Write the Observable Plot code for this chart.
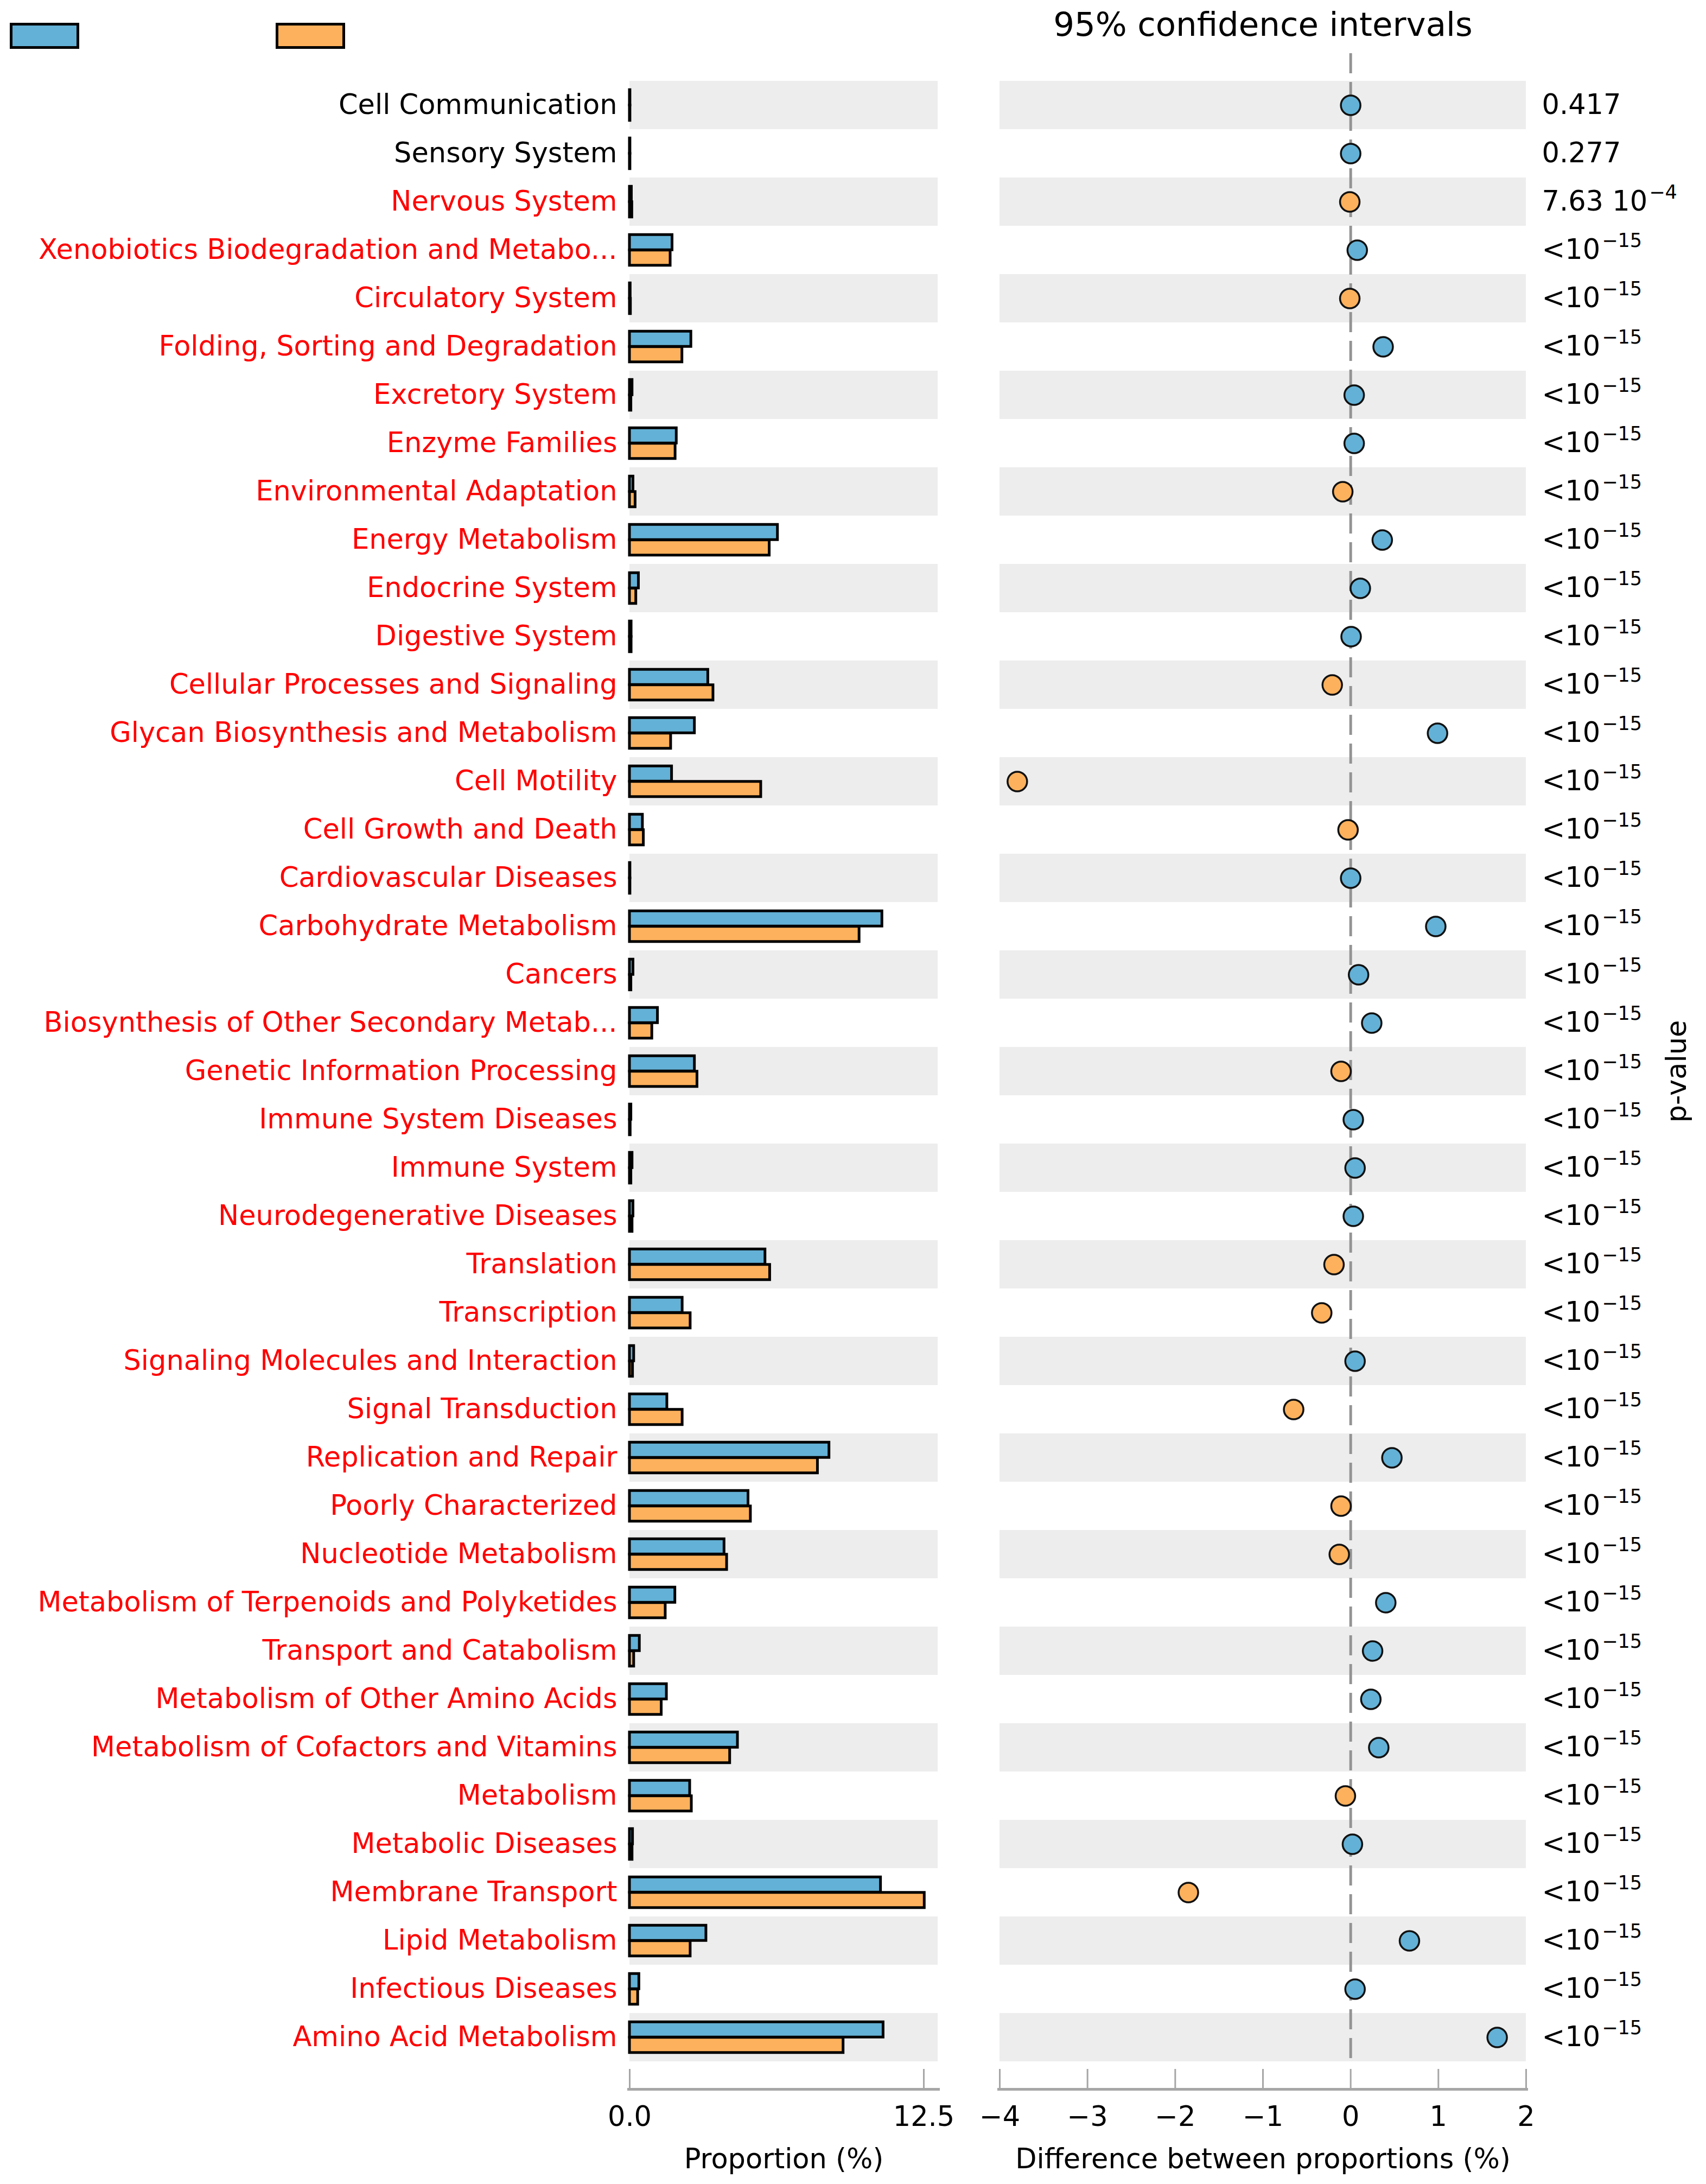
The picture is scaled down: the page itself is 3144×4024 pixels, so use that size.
<!DOCTYPE html>
<html>
<head>
<meta charset="utf-8">
<script src="https://cdn.jsdelivr.net/npm/d3@7"></script>
<script src="https://cdn.jsdelivr.net/npm/@observablehq/plot@0.6"></script>
<style>
  html, body { margin: 0; padding: 0; background: #ffffff; }
  #wrap { position: relative; width: 3144px; height: 4024px; font-family: "DejaVu Sans", sans-serif; overflow: hidden; }
  #wrap svg { position: absolute; left: 0; top: 0; background: transparent; overflow: visible; }
  .swatch { position: absolute; box-sizing: border-box; border: 5px solid #000; }
</style>
</head>
<body>
<div id="wrap"></div>
<script>
// ---------------- data ----------------
const features = [
  "Cell Communication", "Sensory System", "Nervous System",
  "Xenobiotics Biodegradation and Metabolism", "Circulatory System",
  "Folding, Sorting and Degradation", "Excretory System", "Enzyme Families",
  "Environmental Adaptation", "Energy Metabolism", "Endocrine System",
  "Digestive System", "Cellular Processes and Signaling",
  "Glycan Biosynthesis and Metabolism", "Cell Motility", "Cell Growth and Death",
  "Cardiovascular Diseases", "Carbohydrate Metabolism", "Cancers",
  "Biosynthesis of Other Secondary Metabolites", "Genetic Information Processing",
  "Immune System Diseases", "Immune System", "Neurodegenerative Diseases",
  "Translation", "Transcription", "Signaling Molecules and Interaction",
  "Signal Transduction", "Replication and Repair", "Poorly Characterized",
  "Nucleotide Metabolism", "Metabolism of Terpenoids and Polyketides",
  "Transport and Catabolism", "Metabolism of Other Amino Acids",
  "Metabolism of Cofactors and Vitamins", "Metabolism", "Metabolic Diseases",
  "Membrane Transport", "Lipid Metabolism", "Infectious Diseases",
  "Amino Acid Metabolism"
];
const labels = [
  "Cell Communication", "Sensory System", "Nervous System",
  "Xenobiotics Biodegradation and Metabo...", "Circulatory System",
  "Folding, Sorting and Degradation", "Excretory System", "Enzyme Families",
  "Environmental Adaptation", "Energy Metabolism", "Endocrine System",
  "Digestive System", "Cellular Processes and Signaling",
  "Glycan Biosynthesis and Metabolism", "Cell Motility", "Cell Growth and Death",
  "Cardiovascular Diseases", "Carbohydrate Metabolism", "Cancers",
  "Biosynthesis of Other Secondary Metab...", "Genetic Information Processing",
  "Immune System Diseases", "Immune System", "Neurodegenerative Diseases",
  "Translation", "Transcription", "Signaling Molecules and Interaction",
  "Signal Transduction", "Replication and Repair", "Poorly Characterized",
  "Nucleotide Metabolism", "Metabolism of Terpenoids and Polyketides",
  "Transport and Catabolism", "Metabolism of Other Amino Acids",
  "Metabolism of Cofactors and Vitamins", "Metabolism", "Metabolic Diseases",
  "Membrane Transport", "Lipid Metabolism", "Infectious Diseases",
  "Amino Acid Metabolism"
];
// proportion (%) of group 1 (blue) and group 2 (orange)
const propBlue = [0.02, 0.02, 0.08, 1.81, 0.03, 2.61, 0.11, 1.99, 0.15, 6.29, 0.38,
  0.07, 3.33, 2.76, 1.79, 0.55, 0.02, 10.73, 0.15, 1.19, 2.76, 0.06, 0.11, 0.15,
  5.76, 2.24, 0.18, 1.59, 8.48, 5.04, 4.02, 1.93, 0.42, 1.57, 4.59, 2.56, 0.13,
  10.67, 3.25, 0.40, 10.78];
const propOrange = [0.02, 0.02, 0.10, 1.73, 0.04, 2.23, 0.06, 1.94, 0.24, 5.94, 0.27,
  0.07, 3.55, 1.75, 5.58, 0.59, 0.02, 9.76, 0.06, 0.95, 2.87, 0.03, 0.06, 0.11,
  5.96, 2.58, 0.13, 2.24, 7.99, 5.14, 4.13, 1.52, 0.18, 1.35, 4.26, 2.63, 0.11,
  12.53, 2.58, 0.35, 9.08];
// difference between proportions (%)
const diffs = [0.0, 0.0, -0.01, 0.075, -0.01, 0.37, 0.04, 0.04, -0.09, 0.36, 0.11,
  0.005, -0.21, 0.99, -3.80, -0.03, 0.0, 0.97, 0.09, 0.24, -0.11, 0.03, 0.05, 0.03,
  -0.19, -0.33, 0.05, -0.65, 0.47, -0.11, -0.13, 0.40, 0.25, 0.23, 0.32, -0.06, 0.02,
  -1.85, 0.67, 0.05, 1.67];
const pValueLabels = ["0.417", "0.277", "7.63 10^-4",
  "<10^-15", "<10^-15", "<10^-15", "<10^-15", "<10^-15", "<10^-15", "<10^-15",
  "<10^-15", "<10^-15", "<10^-15", "<10^-15", "<10^-15", "<10^-15", "<10^-15",
  "<10^-15", "<10^-15", "<10^-15", "<10^-15", "<10^-15", "<10^-15", "<10^-15",
  "<10^-15", "<10^-15", "<10^-15", "<10^-15", "<10^-15", "<10^-15", "<10^-15",
  "<10^-15", "<10^-15", "<10^-15", "<10^-15", "<10^-15", "<10^-15", "<10^-15",
  "<10^-15", "<10^-15", "<10^-15"];
const significant = [false, false, true, true, true, true, true, true, true, true, true,
  true, true, true, true, true, true, true, true, true, true, true, true, true, true,
  true, true, true, true, true, true, true, true, true, true, true, true, true, true,
  true, true];
const propDomain = [0, 13.1];
const propTicks = [0, 12.5];
const diffDomain = [-4, 2];
const diffTicks = [-4, -3, -2, -1, 0, 1, 2];

// ---------------- style ----------------
const BLUE = "#63b1d6", ORANGE = "#feb15c", BAND = "#ededed", SPINE = "#a6a6a6";
const FONT = "DejaVu Sans";
const W = 3144, H = 4024, TOP = 139, BOTTOM = 3808;
const FH = BOTTOM - TOP;
const BW = FH / features.length;
const HALF = 28.5;
const intFmt = d => (d < 0 ? "\u2212" : "") + Math.abs(d);

const rows = features.map((name, i) => ({
  name, label: labels[i], blue: propBlue[i], orange: propOrange[i], diff: diffs[i],
  p: pValueLabels[i].replace("-", "\u2212"),
  labelFill: significant[i] ? "#ff0000" : "#000000",
  dotFill: diffs[i] >= 0 ? BLUE : ORANGE,
  shade: i % 2 === 0
}));
const shaded = rows.filter(d => d.shade);

const wrap = document.getElementById("wrap");

// ---------------- left panel: proportions ----------------
const left = Plot.plot({
  width: W, height: H,
  marginTop: TOP, marginBottom: H - BOTTOM, marginLeft: 1160, marginRight: W - 1728,
  x: {domain: propDomain, label: null},
  y: {domain: features, axis: null, padding: 0, label: null},
  color: {type: "identity"},
  style: {fontFamily: FONT, background: "transparent", overflow: "visible", color: "#000"},
  marks: [
    Plot.barX(shaded, {x1: () => propDomain[0], x2: () => propDomain[1], y: "name", fill: BAND}),
    Plot.barX(rows, {x1: () => 0, x2: "blue", y: "name", fill: BLUE, stroke: "#000", strokeWidth: 5,
      insetTop: BW / 2 - HALF, insetBottom: BW / 2}),
    Plot.barX(rows, {x1: () => 0, x2: "orange", y: "name", fill: ORANGE, stroke: "#000", strokeWidth: 5,
      insetTop: BW / 2, insetBottom: BW / 2 - HALF}),
    Plot.text(rows, {y: "name", text: "label", frameAnchor: "left", textAnchor: "end", lineAnchor: "middle",
      dx: -23, fill: "labelFill", fontSize: 51, fontFamily: FONT}),
    // bottom spine, ticks, labels
    Plot.barX([propDomain], {x1: d => d[0], x2: d => d[1], fill: SPINE, insetTop: FH - 5, dy: 44, insetLeft: -4, insetRight: -4}),
    Plot.tickX(propTicks, {x: d => d, stroke: SPINE, strokeWidth: 3, insetTop: FH - 37, dy: 41}),
    Plot.axisX({ticks: propTicks, tickFormat: d => d.toFixed(1), anchor: "bottom", tickSize: 0,
      tickPadding: 72, fontSize: 51, label: null, fill: "#000"}),
    Plot.text(["Proportion (%)"], {text: d => d, frameAnchor: "bottom", lineAnchor: "middle", textAnchor: "middle",
      dy: 170, fontSize: 51, fill: "#000"})
  ]
});
wrap.appendChild(left);

// ---------------- right panel: differences ----------------
const right = Plot.plot({
  width: W, height: H,
  marginTop: TOP, marginBottom: H - BOTTOM, marginLeft: 1842, marginRight: W - 2812,
  x: {domain: diffDomain, label: null},
  y: {domain: features, axis: null, padding: 0, label: null},
  color: {type: "identity"},
  style: {fontFamily: FONT, background: "transparent", overflow: "visible", color: "#000"},
  marks: [
    Plot.barX(shaded, {x1: () => diffDomain[0], x2: () => diffDomain[1], y: "name", fill: BAND}),
    Plot.ruleX([0], {stroke: "#939393", strokeWidth: 5, strokeDasharray: "37,16", insetTop: -41}),
    Plot.dot(rows, {x: "diff", y: "name", r: 18, fill: "dotFill", stroke: "#111", strokeWidth: 3.5}),
    Plot.text(rows, {y: "name", text: "p", frameAnchor: "right", textAnchor: "start", lineAnchor: "middle",
      dx: 29, fontSize: 51, fill: "#000"}),
    Plot.text(["p-value"], {text: d => d, frameAnchor: "right", textAnchor: "middle", lineAnchor: "middle",
      rotate: -90, dx: 278, fontSize: 51, fill: "#000"}),
    Plot.text(["95% confidence intervals"], {text: d => d, frameAnchor: "top", textAnchor: "middle",
      lineAnchor: "middle", dy: -93, fontSize: 61, fill: "#000"}),
    Plot.barX([diffDomain], {x1: d => d[0], x2: d => d[1], fill: SPINE, insetTop: FH - 5, dy: 44, insetLeft: -4, insetRight: -4}),
    Plot.tickX(diffTicks, {x: d => d, stroke: SPINE, strokeWidth: 3, insetTop: FH - 37, dy: 41}),
    Plot.axisX({ticks: diffTicks, tickFormat: intFmt, anchor: "bottom", tickSize: 0, tickPadding: 72, fontSize: 51,
      label: null, fill: "#000"}),
    Plot.text(["Difference between proportions (%)"], {text: d => d, frameAnchor: "bottom", lineAnchor: "middle",
      textAnchor: "middle", dy: 170, fontSize: 51, fill: "#000"})
  ]
});
wrap.appendChild(right);

// superscripts for p-values (e.g. <10^-15)
d3.select(right).selectAll("text")
  .filter(function () { return this.textContent.includes("^"); })
  .each(function () {
    const [base, sup] = this.textContent.split("^");
    const t = d3.select(this);
    t.text(null);
    t.append("tspan").text(base);
    t.append("tspan").attr("dx", 3).attr("dy", -22).attr("font-size", 35).text(sup);
  });

// ---------------- legend (unlabelled group swatches) ----------------
[[18, BLUE], [508, ORANGE]].forEach(([x, c]) => {
  const s = document.createElement("div");
  s.className = "swatch";
  s.style.left = x + "px"; s.style.top = "42px";
  s.style.width = "128px"; s.style.height = "48px";
  s.style.background = c;
  wrap.appendChild(s);
});
</script>
</body>
</html>
